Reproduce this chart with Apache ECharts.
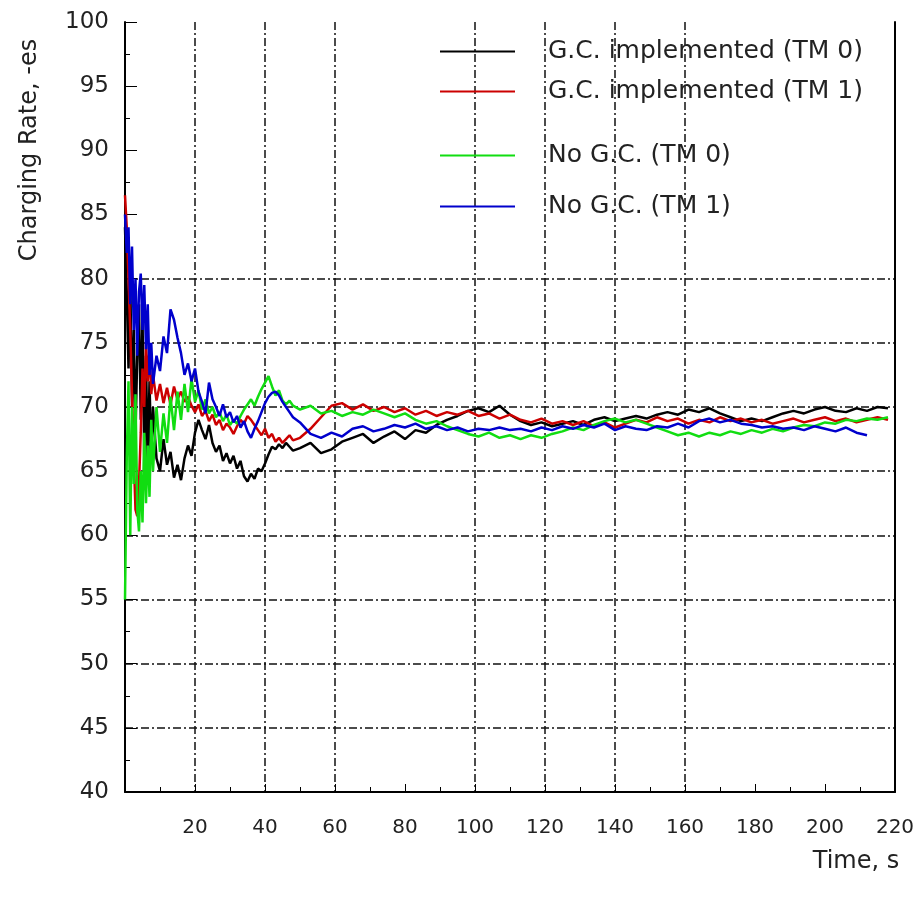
<!DOCTYPE html>
<html>
<head>
<meta charset="utf-8">
<script src="https://cdn.jsdelivr.net/npm/echarts@6/dist/echarts.min.js"></script>
<style>
  html, body { margin: 0; padding: 0; background: #fff; }
  #chart { width: 923px; height: 902px; }
</style>
</head>
<body>
<div id="chart"></div>
<script>
// time samples, s (dense at start where the curves swing)
var timeS = [
  0, 0.5, 1, 1.5, 2, 2.5, 3, 3.5, 4, 4.5, 5, 5.5, 6, 6.5, 7, 7.5, 8,
  9, 10, 11, 12, 13, 14, 15, 16, 17, 18, 19, 20, 21, 22, 23, 24, 25, 26, 27, 28,
  29, 30, 31, 32, 33, 34, 35, 36, 37, 38, 39, 40, 41, 42, 43, 44, 45, 46, 47, 48,
  50, 53, 56, 59, 62, 65, 68, 71, 74, 77, 80, 83, 86, 89, 92, 95, 98, 101, 104, 107,
  110, 113, 116, 119, 122, 125, 128, 131, 134, 137, 140, 143, 146, 149, 152, 155, 158,
  161, 164, 167, 170, 173, 176, 179, 182, 185, 188, 191, 194, 197, 200, 203, 206, 209,
  212, 215, 218
];

var gcTm0 = [
  84, 79, 73, 80, 70, 76, 68, 74, 78, 69, 77, 66, 74, 65, 72, 66, 70,
  66, 65, 67.5, 65.5, 66.5, 64.5, 65.5, 64.3, 66, 67, 66.2, 68, 69, 68.2, 67.5, 68.6, 67.2, 66.5, 67, 65.8,
  66.4, 65.6, 66.2, 65.2, 65.8, 64.6, 64.2, 64.8, 64.4, 65.2, 65.0, 65.6, 66.3, 66.9, 66.7, 67.1, 66.8, 67.2, 66.9, 66.6,
  66.8, 67.2, 66.4, 66.7, 67.3, 67.6, 67.9, 67.2, 67.7, 68.1, 67.5, 68.2, 68, 68.6, 69, 69.3, 69.7, 69.9, 69.6, 70.1,
  69.4, 68.9, 68.6, 68.8, 68.5, 68.7, 68.9, 68.6, 69, 69.2, 68.9, 69.1, 69.3, 69.1, 69.4, 69.6, 69.4,
  69.8, 69.6, 69.9, 69.5, 69.2, 68.9, 69.1, 68.9, 69.2, 69.5, 69.7, 69.5, 69.8, 70, 69.7, 69.6, 69.9,
  69.7, 70, 69.9
];

var gcTm1 = [
  86.5, 84, 80, 76, 71, 66, 62, 61.5, 64, 68, 73, 70, 75, 72, 74.5, 71, 72.5,
  70.5, 71.8, 70.3, 71.5, 70.2, 71.6, 70.6, 71.2, 70.4, 70.8, 70.1, 69.6, 70.2, 69.3, 69.7, 68.9, 69.4, 68.6, 69, 68.2,
  68.7, 68.4, 67.9, 68.5, 69, 68.7, 69.3, 69, 68.6, 68.2, 67.8, 68.3, 67.6, 67.9, 67.3, 67.6, 67.2, 67.5, 67.8, 67.4,
  67.6, 68.3, 69.2, 70.1, 70.3, 69.8, 70.2, 69.7, 70, 69.6, 69.9, 69.4, 69.7, 69.3, 69.6, 69.4, 69.7, 69.3, 69.5, 69.1,
  69.4, 69, 68.8, 69.1, 68.7, 68.9, 68.6, 68.9, 68.5, 68.8, 68.4, 68.7, 69, 68.8, 69.2, 68.9, 69.1,
  68.7, 69, 68.8, 69.2, 68.9, 69.1, 68.8, 69, 68.7, 68.9, 69.1, 68.8, 69, 69.2, 68.9, 69.1, 68.8,
  69, 69.2, 69
];

var noGcTm0 = [
  55, 66, 72, 60, 70, 64, 71, 62, 60.3, 65, 61, 68, 62.5, 67, 63, 69, 65,
  70, 66.5, 69.5, 67.2, 70.8, 68.2, 71.2, 69, 71.8, 69.6, 72.2, 70.4, 71.3, 69.8, 70.6, 69.5, 70, 69.2, 69.6, 68.9,
  69.4, 68.6, 69, 68.7, 69.3, 69.8, 70.2, 70.6, 70.1, 70.8, 71.4, 71.9, 72.4, 71.6, 70.9, 71.3, 70.5, 70.2, 70.5, 70.1,
  69.8, 70.1, 69.5, 69.7, 69.3, 69.6, 69.4, 69.8, 69.5, 69.2, 69.5, 69, 68.7, 68.9, 68.5, 68.2, 67.9, 67.7, 68, 67.6,
  67.8, 67.5, 67.8, 67.6, 67.9, 68.1, 68.4, 68.2, 68.6, 68.9, 69.1, 68.8, 69, 68.7, 68.4, 68.1, 67.8,
  68, 67.7, 68, 67.8, 68.1, 67.9, 68.2, 68, 68.3, 68.1, 68.4, 68.6, 68.5, 68.8, 68.7, 69, 68.9,
  69.1, 69, 69.2
];

var noGcTm1 = [
  85, 82, 84, 78, 82.5, 76, 80, 74, 79, 80.4, 76, 79.5, 74.5, 78, 72.5, 75, 71.8,
  74, 72.8, 75.5, 74.2, 77.6, 76.8, 75.4, 74.2, 72.5, 73.4, 72, 73, 71.2, 70.4, 69.5, 71.9, 70.6, 70, 69.3, 70.2,
  69.2, 69.6, 68.8, 69.3, 68.4, 68.9, 68.1, 67.6, 68.3, 68.9, 69.6, 70.3, 70.8, 71.1, 71.2, 70.9, 70.4, 70, 69.6, 69.2,
  68.8, 67.9, 67.6, 68, 67.7, 68.3, 68.5, 68.1, 68.3, 68.6, 68.4, 68.7, 68.3, 68.5, 68.2, 68.4, 68.1, 68.3, 68.2, 68.4,
  68.2, 68.3, 68.1, 68.4, 68.2, 68.5, 68.3, 68.6, 68.4, 68.7, 68.2, 68.5, 68.3, 68.2, 68.5, 68.4, 68.7,
  68.4, 68.9, 69.1, 68.8, 69, 68.7, 68.6, 68.4, 68.5, 68.3, 68.4, 68.2, 68.5, 68.3, 68.1, 68.4, 68,
  67.8, null, null
];

var seriesNames = ['G.C. implemented (TM 0)', 'G.C. implemented (TM 1)', 'No G.C. (TM 0)', 'No G.C. (TM 1)'];
var seriesValues = [gcTm0, gcTm1, noGcTm0, noGcTm1];
var seriesColors = ['#000000', '#cc0000', '#11dd11', '#0000cc'];
var legendTops = [34, 74, 138, 189];

var dash = [8, 3, 2, 3];
var gridDark = '#111';
var none = 'rgba(0,0,0,0)';

var myChart = echarts.init(document.getElementById('chart'));

var series = seriesValues.map(function (vals, k) {
  var pts = [];
  for (var i = 0; i < timeS.length; i++) {
    if (vals[i] != null) pts.push([timeS[i], vals[i]]);
  }
  return {
    name: seriesNames[k],
    type: 'line',
    data: pts,
    showSymbol: false,
    symbol: 'none',
    color: seriesColors[k],
    lineStyle: { width: 2.5, color: seriesColors[k] },
    z: 3 + k
  };
});

var legends = seriesNames.map(function (n, k) {
  return {
    data: [n],
    left: 435,
    top: legendTops[k],
    icon: 'rect',
    itemWidth: 75,
    itemHeight: 2,
    selectedMode: false,
    textStyle: { fontFamily: 'DejaVu Sans', fontSize: 25, color: '#222', padding: [0, 0, 0, 28] }
  };
});

option = {
  animation: false,
  backgroundColor: '#fff',
  grid: { left: 125, right: 28, top: 22, bottom: 110 },
  legend: legends,
  xAxis: {
    type: 'value',
    min: 0, max: 220, interval: 20,
    axisLine: { lineStyle: { color: '#000', width: 2 } },
    axisTick: { inside: true, length: 8, lineStyle: { color: '#000' } },
    minorTick: { show: true, splitNumber: 2, length: 5, lineStyle: { color: '#000' } },
    axisLabel: { showMinLabel: false, margin: 26, fontFamily: 'DejaVu Sans', fontSize: 20, color: '#222' },
    splitLine: {
      show: true,
      lineStyle: {
        type: dash, width: 1.5,
        color: [none, gridDark, gridDark, gridDark, none, gridDark, gridDark, gridDark, gridDark, none, none, none]
      }
    }
  },
  yAxis: [
    {
      type: 'value',
      min: 40, max: 100, interval: 5,
      axisLine: { show: true, lineStyle: { color: '#000', width: 2 } },
      axisTick: { show: true, inside: true, length: 12, lineStyle: { color: '#000' } },
      minorTick: { show: true, splitNumber: 2, length: 5, lineStyle: { color: '#000' } },
      axisLabel: { margin: 16, fontFamily: 'DejaVu Sans', fontSize: 23, color: '#222' },
      splitLine: {
        show: true,
        lineStyle: {
          type: dash, width: 1.5,
          color: [none, gridDark, gridDark, gridDark, gridDark, gridDark, gridDark, gridDark, gridDark, none, none, none, none]
        }
      }
    },
    {
      type: 'value',
      position: 'right',
      min: 40, max: 100, interval: 5,
      axisLine: { show: true, lineStyle: { color: '#000', width: 2 } },
      axisTick: { show: false },
      axisLabel: { show: false },
      splitLine: { show: false }
    }
  ],
  graphic: [
    {
      type: 'text', x: 30, y: 150, rotation: Math.PI / 2,
      style: { text: 'Charging Rate, -es', align: 'center', verticalAlign: 'middle',
               font: '24px "DejaVu Sans"', fill: '#222' }
    },
    {
      type: 'text', x: 856, y: 862,
      style: { text: 'Time, s', align: 'center', verticalAlign: 'middle',
               font: '24px "DejaVu Sans"', fill: '#222' }
    }
  ],
  series: series
};

myChart.setOption(option);
</script>
</body>
</html>
